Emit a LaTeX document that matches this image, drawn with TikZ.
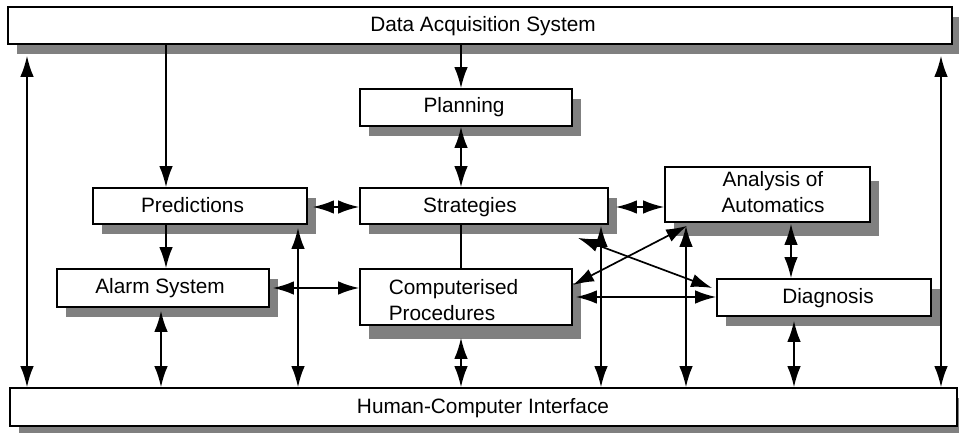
\documentclass[tikz,border=0pt]{standalone}
\usepackage{fontspec}
\setmainfont{Liberation Sans}
\usetikzlibrary{arrows.meta,shadows,calc}
\tikzset{bigtip/.tip={Latex[length=21pt,width=13.5pt]}}
\begin{document}
\begin{tikzpicture}[x=1pt,y=-1pt,
  line width=1.7pt,
  one/.style={-bigtip},
  two/.style={bigtip-bigtip},
  box/.style={draw, fill=white, inner sep=0pt,
    general shadow={shadow xshift=9pt, shadow yshift=-10pt, fill=black!50}},
  tallbox/.style={draw, fill=white, inner sep=0pt,
    general shadow={shadow xshift=9pt, shadow yshift=-14pt, fill=black!50}},
  lbl/.style={font=\fontsize{20.8}{25.5}\selectfont, inner sep=0pt, anchor=base}]
\useasboundingbox (0,0) rectangle (959,433);

% boxes
\node[box, minimum width=944pt, minimum height=37pt] (das) at (480,25.5) {};
\node[box, minimum width=947pt, minimum height=38pt] (hci) at (483.5,407) {};
\node[box, minimum width=212pt, minimum height=37pt] (plan) at (466,107.5) {};
\node[box, minimum width=214pt, minimum height=36pt] (pred) at (200,206) {};
\node[box, minimum width=248pt, minimum height=36pt] (strat) at (484,206) {};
\node[tallbox, minimum width=205pt, minimum height=55pt] (anal) at (767.5,194.5) {};
\node[box, minimum width=212pt, minimum height=38pt] (alarm) at (163,288) {};
\node[tallbox, minimum width=212pt, minimum height=56pt] (comp) at (466,297) {};
\node[box, minimum width=214pt, minimum height=37pt] (diag) at (824,297.5) {};

% labels (base of a two-line label is its last line)
\node[lbl] (das-t) at (483,32) {Data Acquisition System};
\node[lbl] (hci-t) at (483,413) {Human-Computer Interface};
\node[lbl] (plan-t) at (464,113) {Planning};
\node[lbl] (pred-t) at (192.5,212) {Predictions};
\node[lbl] (strat-t) at (470,212) {Strategies};
\node[lbl, align=center] (anal-t) at (773,212) {Analysis of\\Automatics};
\node[lbl] (alarm-t) at (160,293) {Alarm System};
\node[lbl, anchor=base west, align=left] (comp-t) at (388,320) {Computerised\\Procedures};
\node[lbl] (diag-t) at (828,303) {Diagnosis};

% connectors
\draw[two, shorten <=11pt] (27,0 |- das.south) -- (27,0 |- hci.north);
\draw[two, shorten <=11pt] (941,0 |- das.south) -- (941,0 |- hci.north);
\draw[one] (166,0 |- das.south) -- (166,0 |- pred.north);
\draw[one] (461,0 |- das.south) -- (461,0 |- plan.north);
\draw[two] (461,0 |- plan.south) -- (461,0 |- strat.north);
\draw[two, shorten <=5pt] (pred.east |- 0,207) -- (strat.west |- 0,207);
\draw[two, shorten <=7pt] (strat.east |- 0,207) -- (anal.west |- 0,207);
\draw[one] (166,0 |- pred.south) -- (166,0 |- alarm.north);
\draw[two, shorten <=3pt] (161,0 |- alarm.south) -- (161,0 |- hci.north);
\draw[two, shorten <=3pt] (298,0 |- pred.south) -- (298,0 |- hci.north);
\draw[two, shorten <=3pt] (alarm.east |- 0,288) -- (comp.west |- 0,288);
\draw (461,0 |- strat.south) -- (461,0 |- comp.north);
\draw[two, shorten <=12pt] (461,0 |- comp.south) -- (461,0 |- hci.north);
\draw[two, shorten <=1pt] (601,0 |- strat.south) -- (601,0 |- hci.north);
\draw[two, shorten <=3pt] (686,0 |- anal.south) -- (686,0 |- hci.north);
\draw[two, shorten <=1pt] (791,0 |- anal.south) -- (791,0 |- diag.north);
\draw[two, shorten <=4pt] (794,0 |- diag.south) -- (794,0 |- hci.north);
\draw[two] ($(strat.south east)+(-31,13)$) -- ($(diag.west)+(-4,-9.5)$);
\draw[two] ($(comp.east)+(0,-12)$) -- ($(anal.south west)+(23,3)$);
\draw[two, shorten <=3pt] (comp.east |- 0,297) -- (diag.west |- 0,297);
\end{tikzpicture}
\end{document}
